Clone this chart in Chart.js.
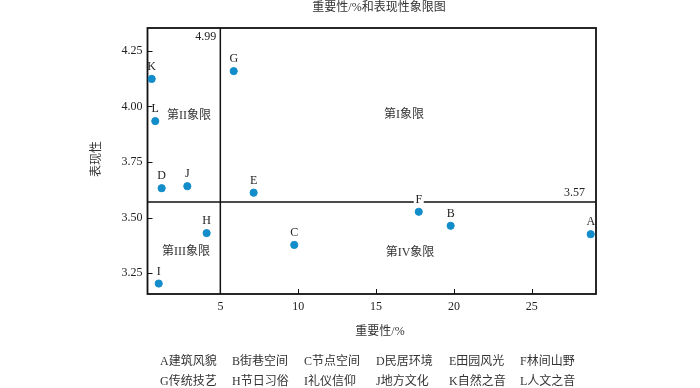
<!DOCTYPE html>
<html>
<head>
<meta charset="utf-8">
<script src="https://cdn.jsdelivr.net/npm/chart.js@4"></script>
<style>
  html, body { margin: 0; padding: 0; background: #fff; }
  #wrap { width: 700px; height: 388px; }
</style>
</head>
<body>
<div id="wrap"><canvas id="quadChart" width="700" height="388"></canvas></div>
<script>
const codes = ['A', 'B', 'C', 'D', 'E', 'F', 'G', 'H', 'I', 'J', 'K', 'L'];
const names = ['建筑风貌', '街巷空间', '节点空间', '民居环境', '田园风光', '林间山野',
               '传统技艺', '节日习俗', '礼仪信仰', '地方文化', '自然之音', '人文之音'];
const importance = [28.79, 19.79, 9.74, 1.22, 7.13, 17.74, 5.85, 4.11, 1.03, 2.87, 0.58, 0.81];
const performance = [3.425, 3.463, 3.377, 3.632, 3.612, 3.526, 4.159, 3.43, 3.203, 3.641, 4.124, 3.934];
const xTicks = [5, 10, 15, 20, 25];
const yTicks = [3.25, 3.50, 3.75, 4.00, 4.25];
const xCut = 4.99;
const yCut = 3.57;
const quadrants = ['第I象限', '第II象限', '第III象限', '第IV象限'];

const SERIF = '"Liberation Serif", "Noto Sans CJK SC", serif';
const CJK = '"Liberation Serif", "Noto Sans CJK SC", sans-serif';

const quadPlugin = {
    id: 'quadPlugin',
    beforeDatasetsDraw(chart) {
        const { ctx, chartArea: a, scales: { x, y } } = chart;
        ctx.save();
        // quadrant lines
        ctx.strokeStyle = '#111';
        ctx.lineWidth = 1.5;
        const cx = x.getPixelForValue(xCut);
        const cy = y.getPixelForValue(yCut);
        ctx.beginPath();
        ctx.moveTo(cx, a.top); ctx.lineTo(cx, a.bottom);
        ctx.moveTo(a.left, cy); ctx.lineTo(a.right, cy);
        ctx.stroke();
        // frame
        ctx.lineWidth = 1.8;
        ctx.strokeRect(a.left, a.top, a.right - a.left, a.bottom - a.top);
        // inward ticks
        ctx.lineWidth = 1;
        ctx.beginPath();
        xTicks.forEach(v => {
            const px = Math.round(x.getPixelForValue(v)) + 0.5;
            ctx.moveTo(px, a.bottom); ctx.lineTo(px, a.bottom - 5);
        });
        yTicks.forEach(v => {
            const py = Math.round(y.getPixelForValue(v)) + 0.5;
            ctx.moveTo(a.left, py); ctx.lineTo(a.left + 5, py);
        });
        ctx.stroke();
        // cut values
        ctx.fillStyle = '#222';
        ctx.font = '12px ' + SERIF;
        ctx.textAlign = 'right';
        ctx.textBaseline = 'middle';
        ctx.fillText(xCut.toFixed(2), cx - 4, a.top + 9);
        ctx.fillText(yCut.toFixed(2), a.right - 11, cy - 9);
        // quadrant names
        ctx.fillStyle = '#333';
        ctx.font = '12px ' + CJK;
        ctx.textAlign = 'center';
        const qx = [16.8, 2.98, 2.78, 17.18];
        const qy = [3.96, 3.957, 3.347, 3.343];
        quadrants.forEach((q, i) => {
            ctx.fillText(q, x.getPixelForValue(qx[i]), y.getPixelForValue(qy[i]));
        });
        ctx.restore();
    },
    afterDatasetsDraw(chart) {
        const { ctx } = chart;
        const meta = chart.getDatasetMeta(0);
        ctx.save();
        ctx.font = '12px ' + SERIF;
        ctx.textAlign = 'center';
        ctx.textBaseline = 'middle';
        meta.data.forEach((pt, i) => {
            const lx = pt.x, ly = pt.y - 12;
            if (codes[i] === 'F') {
                ctx.fillStyle = '#fff';
                ctx.fillRect(lx - 5, ly - 6, 10, 12);
            }
            ctx.fillStyle = '#222';
            ctx.fillText(codes[i], lx, ly);
        });
        ctx.restore();
    },
    afterDraw(chart) {
        const { ctx } = chart;
        ctx.save();
        ctx.fillStyle = '#333';
        ctx.font = '12px ' + CJK;
        ctx.textAlign = 'center';
        ctx.textBaseline = 'middle';
        ctx.fillText('重要性/%和表现性象限图', 379, 8);
        ctx.fillText('重要性/%', 380, 332);
        ctx.save();
        ctx.translate(97, 159);
        ctx.rotate(-Math.PI / 2);
        ctx.fillText('表现性', 0, 0);
        ctx.restore();
        // legend
        ctx.textAlign = 'left';
        const colX = [160, 232, 304, 376, 449, 520];
        codes.forEach((c, i) => {
            const row = Math.floor(i / 6), col = i % 6;
            ctx.fillText(c + names[i], colX[col], 362 + row * 20);
        });
        ctx.restore();
    }
};

const ctx = document.getElementById('quadChart').getContext('2d');
new Chart(ctx, {
    type: 'scatter',
    data: {
        datasets: [{
            data: importance.map((v, i) => ({ x: v, y: performance[i] })),
            backgroundColor: '#128dca',
            borderColor: '#128dca',
            pointRadius: 3.6,
            pointHoverRadius: 3.6
        }]
    },
    options: {
        responsive: false,
        animation: false,
        events: [],
        layout: { padding: { top: 28, right: 104, left: 0, bottom: 0 } },
        plugins: { legend: { display: false }, title: { display: false }, tooltip: { enabled: false } },
        scales: {
            x: {
                type: 'linear',
                min: 0.31,
                max: 29.13,
                afterBuildTicks: s => { s.ticks = xTicks.map(v => ({ value: v })); },
                afterFit: s => { s.height = 94; },
                grid: { display: false, drawTicks: false },
                border: { display: false },
                ticks: { padding: 6, color: '#222', font: { family: SERIF, size: 12 }, callback: v => String(v) }
            },
            y: {
                type: 'linear',
                min: 3.156,
                max: 4.353,
                afterBuildTicks: s => { s.ticks = yTicks.map(v => ({ value: v })); },
                afterFit: s => { s.width = 147.5; },
                grid: { display: false, drawTicks: false },
                border: { display: false },
                ticks: { padding: 5, color: '#222', font: { family: SERIF, size: 12 }, callback: v => v.toFixed(2) }
            }
        }
    },
    plugins: [quadPlugin]
});
</script>
</body>
</html>
